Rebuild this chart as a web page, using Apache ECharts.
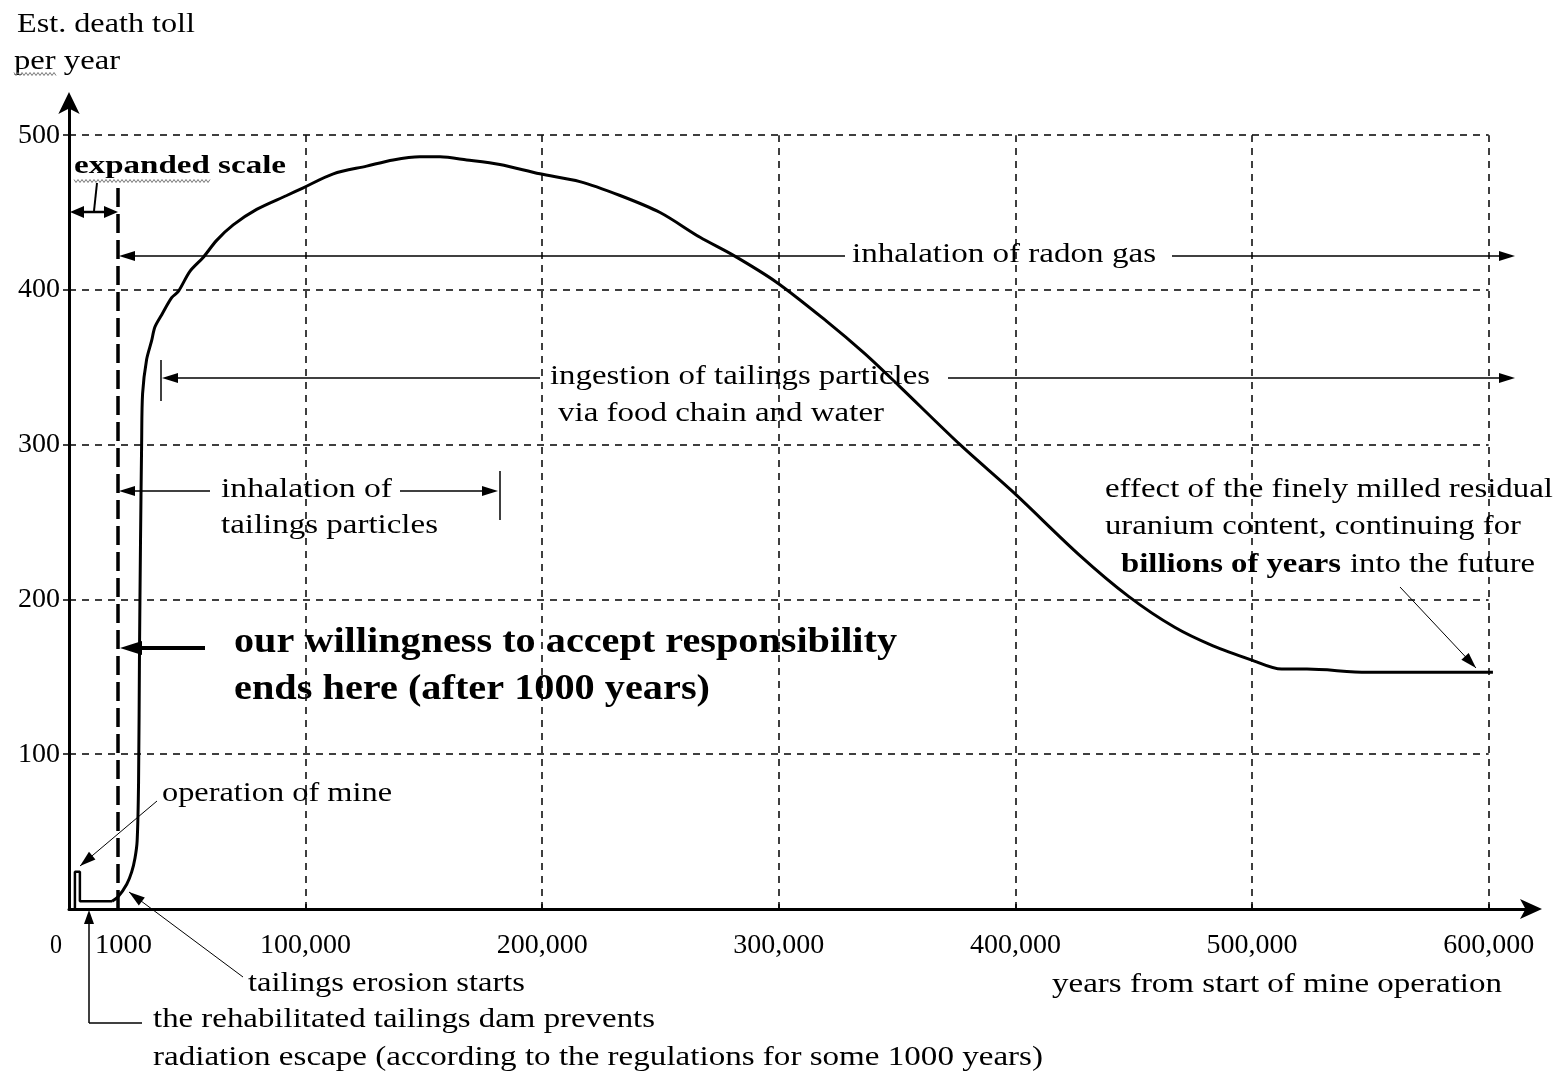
<!DOCTYPE html>
<html>
<head>
<meta charset="utf-8">
<style>
  html, body { margin: 0; padding: 0; background: #fff; }
  #chart { width: 1562px; height: 1073px; }
</style>
<script src="https://cdn.jsdelivr.net/npm/echarts@6/dist/echarts.min.js"></script>
</head>
<body>
<div id="chart"></div>
<script>
// x is on the main axis scale; the first ~20,700 units hold the expanded 0-1000 yr stretch
var spikeYears = [2500, 2500, 4600, 4600, 18200];
var spikeDeaths = [0, 24, 24, 5, 5];
var curveYears = [18200, 20800, 24400, 26500, 27900, 28800,
  29400, 29800, 30200, 30700, 31100, 32800, 34900, 36300, 39200, 43400,
  46200, 51100, 56700, 62400, 69400, 79300, 92000, 99000, 111700, 125800,
  137000, 148300, 156800, 168100, 182100, 199000, 215900, 232900, 249800, 266700,
  281200, 299000, 320000, 336200, 350800, 376600, 399300, 426800, 447800, 467300,
  483500, 499600, 512500, 523200, 548600, 601800];
var curveDeaths = [5, 8, 16, 24, 33, 44,
  82, 168, 234, 301, 333, 355, 367, 376, 384, 395,
  399, 412, 421, 432, 442, 452, 461, 466, 475, 480,
  484, 486, 486, 484, 481, 475, 470, 461, 450, 434,
  422, 405, 380, 359, 338, 300, 269, 229, 202, 182,
  170, 161, 155, 155, 153, 153];
var xTicks = [100000, 200000, 300000, 400000, 500000, 600000];
var yTicks = [100, 200, 300, 400, 500];
var expandedEnd = 20700;   // axis position of "1000 years"
var expandedTop = 467;

var serif = '"Liberation Serif", "Times New Roman", serif';
var chart = echarts.init(document.getElementById('chart'));

var gridLines = [];
yTicks.forEach(function(v) {
  gridLines.push([{ coord: [0, v] }, { coord: [xTicks[xTicks.length - 1], v] }]);
});
xTicks.forEach(function(x) {
  gridLines.push([{ coord: [x, 0] }, { coord: [x, yTicks[yTicks.length - 1]] }]);
});

// --- annotation helpers (pixel space) ---
var ctx = document.createElement('canvas').getContext('2d');
function label(s, x, y, w, font) {
  ctx.font = font;
  return {
    type: 'text', x: x, y: y, z: 100,
    scaleX: w / ctx.measureText(s).width,
    style: { text: s, x: 0, y: 0, font: font, fill: '#000', textAlign: 'left', textVerticalAlign: 'middle', verticalAlign: 'middle' }
  };
}
function seg(x1, y1, x2, y2, w) {
  return { type: 'line', z: 100, shape: { x1: x1, y1: y1, x2: x2, y2: y2 }, style: { stroke: '#000', lineWidth: w || 1.5 } };
}
function head(x, y, ang, len, half) {
  var ux = Math.cos(ang), uy = Math.sin(ang);
  var bx = x - ux * len, by = y - uy * len;
  return { type: 'polygon', z: 100, shape: { points: [[x, y], [bx - uy * half, by + ux * half], [bx + uy * half, by - ux * half]] }, style: { fill: '#000' } };
}
function arrow(x1, y1, x2, y2, w, len, half) {
  return [seg(x1, y1, x2, y2, w), head(x2, y2, Math.atan2(y2 - y1, x2 - x1), len || 14, half || 5)];
}
function squiggle(x1, x2, y) {
  var pts = [];
  for (var x = x1, k = 0; x <= x2; x += 2, k++) pts.push([x, y + (k % 2 ? 1.5 : -1.5)]);
  return { type: 'polyline', z: 100, shape: { points: pts }, style: { stroke: '#777', lineWidth: 1, fill: null } };
}

var reg = '28px ' + serif;
var notes = [
  label('Est. death toll', 17, 25, 178, reg),
  label('per year', 14, 62, 106, reg),
  squiggle(14, 56, 74),
  label('expanded scale', 74, 166, 212, 'bold 26px ' + serif),
  squiggle(74, 210, 181),
  seg(97, 183, 94, 211, 2),
  seg(80, 212, 108, 212, 2.5),
  head(70, 212, Math.PI, 14, 6),
  head(118, 212, 0, 14, 6),
  label('0', 50, 946, 12, reg),
  label('1000', 95, 946, 57, reg),

  label('inhalation of radon gas', 852, 255, 304, reg),
  seg(130, 256, 845, 256),
  head(119, 256, Math.PI, 16, 5),
  seg(1172, 256, 1505, 256),
  head(1515, 256, 0, 16, 5),

  label('ingestion of tailings particles', 550, 377, 380, reg),
  label('via food chain and water', 558, 414, 326, reg),
  seg(161, 360, 161, 401, 1.5),
  seg(172, 378, 540, 378),
  head(162, 378, Math.PI, 16, 5),
  seg(948, 378, 1505, 378),
  head(1515, 378, 0, 16, 5),

  label('inhalation of', 221, 490, 171, reg),
  label('tailings particles', 221, 526, 217, reg),
  seg(130, 491, 210, 491),
  head(119, 491, Math.PI, 16, 5),
  seg(400, 491, 488, 491),
  head(498, 491, 0, 16, 5),
  seg(500, 471, 500, 520, 1.5),

  label('our willingness to accept responsibility', 234, 643, 663, 'bold 36px ' + serif),
  label('ends here (after 1000 years)', 234, 690, 476, 'bold 36px ' + serif),
  seg(135, 648, 205, 648, 4),
  head(120, 648, Math.PI, 22, 7),

  label('operation of mine', 162, 794, 230, reg),
  label('effect of the finely milled residual', 1105, 490, 448, reg),
  label('uranium content, continuing for', 1105, 527, 416, reg),
  label('billions of years', 1121, 565, 220, 'bold 28px ' + serif),
  label('into the future', 1350, 565, 185, reg),
  label('tailings erosion starts', 248, 984, 277, reg),
  label('the rehabilitated tailings dam prevents', 153, 1020, 502, reg),
  label('radiation escape (according to the regulations for some 1000 years)', 153, 1058, 890, reg),
  label('years from start of mine operation', 1052, 985, 450, reg),

  seg(89, 1023, 142, 1023, 1.5),
  seg(89, 1023, 89, 922, 1.5),
  head(89, 910, -Math.PI / 2, 14, 5)
]
  .concat(arrow(157, 801, 80, 866, 1, 16, 5))
  .concat(arrow(243, 977, 129, 892, 1, 16, 5))
  .concat(arrow(1400, 587, 1476, 668, 1, 16, 5));

chart.setOption({
  backgroundColor: '#fff',
  animation: false,
  grid: { left: 69, right: 26, top: 98, bottom: 164 },
  xAxis: {
    type: 'value', min: 0, max: 620000, interval: 100000,
    splitLine: { show: false },
    axisLine: { lineStyle: { color: '#000', width: 3 }, symbol: ['none', 'arrow'], symbolSize: [15, 22], symbolOffset: [0, 6] },
    axisTick: { inside: true, length: 5, customValues: xTicks, lineStyle: { color: '#000', width: 1.5 } },
    axisLabel: {
      customValues: xTicks, color: '#000', fontFamily: serif, fontSize: 28, margin: 23,
      formatter: function(v) { return v.toLocaleString('en-US'); }
    }
  },
  yAxis: {
    type: 'value', min: 0, max: 524, interval: 100,
    splitLine: { show: false },
    axisLine: { lineStyle: { color: '#000', width: 3 }, symbol: ['none', 'arrow'], symbolSize: [16, 22], symbolOffset: [0, 6] },
    axisTick: { length: 6, customValues: yTicks, lineStyle: { color: '#000', width: 1.5 } },
    axisLabel: { customValues: yTicks, color: '#000', fontFamily: serif, fontSize: 28, margin: 9 }
  },
  series: [
    {
      type: 'line', data: [], z: 1, silent: true,
      markLine: {
        silent: true, symbol: 'none', animation: false,
        label: { show: false },
        lineStyle: { color: '#000', width: 1.5, type: [7, 6] },
        data: gridLines
      }
    },
    {
      type: 'line', data: [], z: 2, silent: true,
      markLine: {
        silent: true, symbol: 'none', animation: false,
        label: { show: false },
        lineStyle: { color: '#000', width: 3.5, type: [19, 7] },
        data: [[{ coord: [expandedEnd, 0] }, { coord: [expandedEnd, expandedTop] }]]
      }
    },
    {
      type: 'line', z: 5, silent: true,
      data: spikeYears.map(function(x, i) { return [x, spikeDeaths[i]]; }),
      showSymbol: false,
      lineStyle: { color: '#000', width: 2.5 }
    },
    {
      type: 'line', z: 5,
      data: curveYears.map(function(x, i) { return [x, curveDeaths[i]]; }),
      showSymbol: false, smooth: 0.3,
      lineStyle: { color: '#000', width: 3 }
    }
  ],
  graphic: notes
});

window.addEventListener('resize', function() { chart.resize(); });
</script>
</body>
</html>
